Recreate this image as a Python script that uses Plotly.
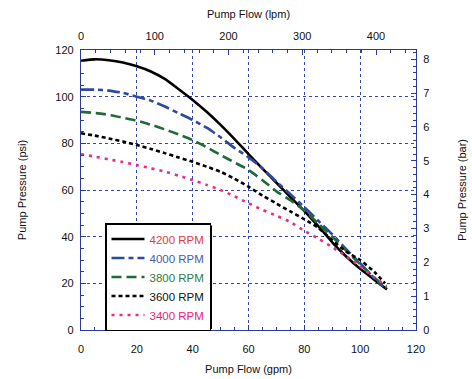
import plotly.graph_objects as go

# ---- data (gpm vs psi) ----
flow_4200 = [0, 5, 10, 15, 20, 25, 30, 35, 40, 45, 50, 55, 60, 65, 70, 75, 80, 85, 90, 95, 100, 105, 109.6]
psi_4200 = [115.4, 116, 115.6, 114.6, 113, 110.8, 107.6, 103.2, 98.6, 93.5, 87.9, 81.8, 75.4, 69.2, 63.1, 57.0, 51.0, 44.5, 37.6, 31.5, 26.2, 21.6, 17.4]

flow_4000 = [0, 5, 10, 15, 20, 25, 30, 35, 40, 45, 50, 55, 60, 65, 70, 75, 80, 85, 90, 95, 100, 105, 108.3]
psi_4000 = [103, 103, 102.6, 101.6, 100, 98.3, 95.8, 92.9, 90, 86.7, 82.6, 78.0, 74, 69.3, 63.6, 58.2, 52.6, 46.8, 41.0, 34.6, 28.6, 22.3, 18.6]

flow_3800 = [0, 5, 10, 15, 20, 25, 30, 35, 40, 45, 50, 55, 60, 65, 70, 75, 80, 85, 90, 95, 100, 105, 109.5]
psi_3800 = [93.5, 93.0, 92.2, 91.0, 89.7, 88.0, 86.0, 83.8, 81.4, 78.3, 75.0, 71.8, 68.6, 64.2, 59.4, 55.6, 51.2, 45.6, 40.0, 34.0, 28.2, 22.5, 18.0]

flow_3600 = [0, 5, 10, 15, 20, 25, 30, 35, 40, 45, 50, 55, 60, 65, 70, 75, 80, 85, 90, 95, 100, 105, 108.9]
psi_3600 = [84.3, 83.3, 82.1, 80.8, 79.3, 77.6, 75.8, 73.9, 72.1, 70.0, 67.8, 64.8, 61.4, 57.6, 54.2, 50.8, 47.5, 43.8, 38.5, 33.6, 30.0, 25.0, 20.0]

flow_3400 = [0, 5, 10, 15, 20, 25, 30, 35, 40, 45, 50, 55, 60, 65, 70, 75, 80, 85, 90, 95, 100, 105, 109.5]
psi_3400 = [75.3, 74.3, 73.1, 72.0, 70.7, 69.3, 67.9, 66.1, 64.3, 62.2, 60.0, 57.3, 54.3, 51.5, 49.0, 46.3, 42.5, 39.2, 35.5, 31.6, 27.2, 22.6, 18.9]

series_names = ["4200 RPM", "4000 RPM", "3800 RPM", "3600 RPM", "3400 RPM"]
label_colors = ["#e23a3a", "#4a5aa8", "#2f7a45", "#111111", "#e8247c"]
line_colors = ["#000000", "#2e4a9e", "#1f6a38", "#000000", "#ec2a80"]
dashes = ["solid", "13px,4px,5px,4px", "10px,5px", "4px,3px", "3px,5px"]

GPM_TO_LPM = 3.785
PSI_TO_BAR = 0.0689476
x_max = 120
y_max = 120

FONT = "Liberation Sans, Arial, sans-serif"
AXIS_BLUE = "#2a3a9c"
GRID_BLUE = "#3344b0"

W, H = 472, 379
ML, MR, MT, MB = 81, 56, 50, 49
PW, PH = W - ML - MR, H - MT - MB

flows = [flow_4200, flow_4000, flow_3800, flow_3600, flow_3400]
pressures = [psi_4200, psi_4000, psi_3800, psi_3600, psi_3400]

fig = go.Figure()
for name, fx, py, lc, tc, d in zip(series_names, flows, pressures, line_colors, label_colors, dashes):
    fig.add_trace(go.Scatter(
        x=fx, y=py, mode="lines",
        name=f"<span style='color:{tc}'>{name}</span>",
        line=dict(color=lc, width=2.6, dash=d, shape="spline", smoothing=0.6),
        xaxis="x", yaxis="y",
    ))

# invisible traces to activate secondary axes
fig.add_trace(go.Scatter(x=[0, x_max * GPM_TO_LPM], y=[None, None], xaxis="x2", yaxis="y",
                         showlegend=False, hoverinfo="skip"))
fig.add_trace(go.Scatter(x=[None, None], y=[0, y_max * PSI_TO_BAR], xaxis="x", yaxis="y2",
                         showlegend=False, hoverinfo="skip"))

tickfont = dict(family=FONT, size=11, color="#111111")
titlefont = dict(family=FONT, size=11, color="#111111")

common = dict(showline=True, linecolor=AXIS_BLUE, linewidth=1.2, ticks="inside",
              tickcolor=AXIS_BLUE, ticklen=5, tickfont=tickfont, zeroline=False,
              fixedrange=True, automargin=False)

# legend box (pixel placement) and its drop shadow
LEG_X, LEG_Y = 105, 223
LEG_W, LEG_H = 105, 104


def px_to_paper(px, py):
    return (px - ML) / PW, (H - MB - py) / PH


sx0, sy0 = px_to_paper(LEG_X + 2.5, LEG_Y + 2.5)
sx1, sy1 = px_to_paper(LEG_X + LEG_W + 2.0, LEG_Y + LEG_H + 2.0)
lx, ly = px_to_paper(LEG_X, LEG_Y)

fig.update_layout(
    width=W, height=H,
    margin=dict(l=ML, r=MR, t=MT, b=MB, pad=0),
    paper_bgcolor="white", plot_bgcolor="white",
    font=dict(family=FONT, size=11, color="#111111"),
    xaxis=dict(range=[0, x_max], dtick=20, tick0=0, showgrid=True, gridcolor=GRID_BLUE,
               griddash="dot", gridwidth=1, ticklabelstandoff=9,
               minor=dict(dtick=5, ticks="inside", ticklen=3, tickcolor=AXIS_BLUE, showgrid=False),
               title=dict(text="Pump Flow (gpm)", font=titlefont, standoff=11), **common),
    xaxis2=dict(range=[0, x_max * GPM_TO_LPM], dtick=100, tick0=0, overlaying="x", side="top",
                showgrid=False, ticklabelstandoff=5,
                minor=dict(dtick=20, ticks="inside", ticklen=3, tickcolor=AXIS_BLUE, showgrid=False),
                title=dict(text="Pump Flow (lpm)", font=titlefont, standoff=8), **common),
    yaxis=dict(range=[0, y_max], dtick=20, tick0=0, showgrid=True, gridcolor=GRID_BLUE,
               griddash="dot", gridwidth=1, ticklabelstandoff=4,
               minor=dict(dtick=5, ticks="inside", ticklen=3, tickcolor=AXIS_BLUE, showgrid=False),
               title=dict(text="Pump Pressure (psi)", font=titlefont, standoff=26), **common),
    yaxis2=dict(range=[0, y_max * PSI_TO_BAR], dtick=1, tick0=0, overlaying="y", side="right",
                showgrid=False, ticklabelstandoff=4,
                minor=dict(dtick=0.2, ticks="inside", ticklen=3, tickcolor=AXIS_BLUE, showgrid=False),
                title=dict(text="Pump Pressure (bar)", font=titlefont, standoff=29), **common),
    legend=dict(x=lx, y=ly, xanchor="left", yanchor="top",
                bgcolor="white", bordercolor="black", borderwidth=1.5,
                font=dict(family=FONT, size=11.5), itemwidth=33, tracegroupgap=0),
    shapes=[dict(type="rect", xref="paper", yref="paper", x0=sx0, x1=sx1, y0=sy0, y1=sy1,
                 fillcolor="black", line=dict(width=0), layer="above")],
    showlegend=True,
)

fig.write_html("out.html", config={"displayModeBar": False},
               post_script="document.body.style.margin='0';document.body.style.padding='0';")
